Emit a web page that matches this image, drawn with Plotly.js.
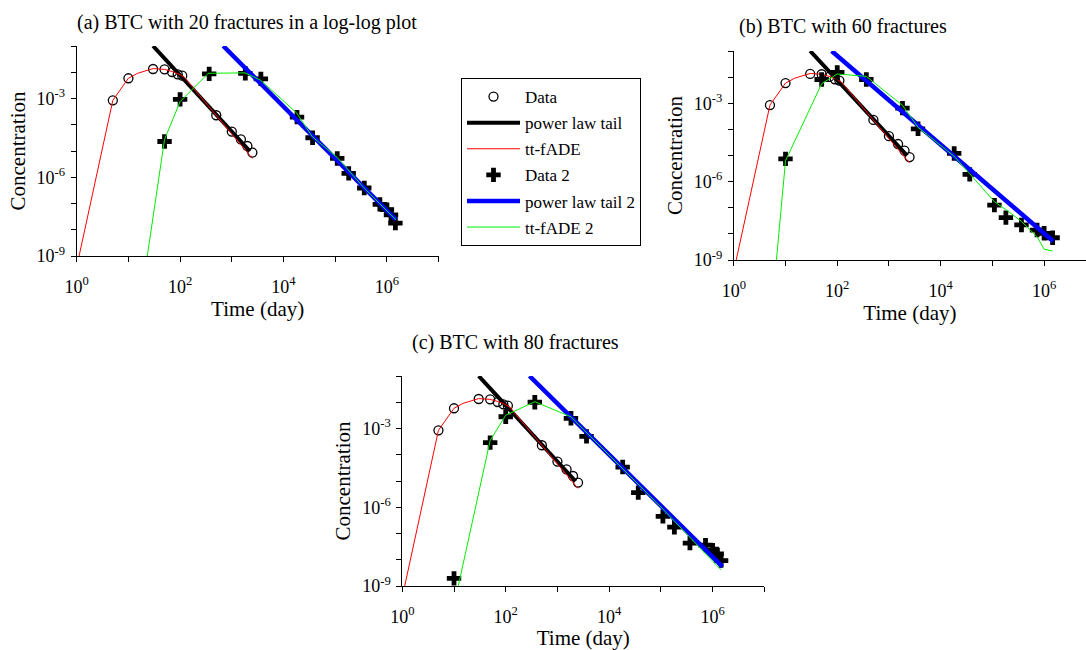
<!DOCTYPE html>
<html>
<head>
<meta charset="utf-8">
<script src="https://cdn.plot.ly/plotly-3.0.1.min.js"></script>
<style>
  html, body { margin: 0; padding: 0; background: #ffffff; }
  #chart { width: 1086px; height: 650px; }
</style>
</head>
<body>
<div id="chart"></div>
<script>
// Reference breakthrough data (open circles), shared by all three panels
const dataTime = [5, 10, 30, 50, 70, 90, 110, 500, 1000, 1500, 2000, 2500];
const dataConc = [8.5e-4, 5.9e-3, 1.33e-2, 1.29e-2, 1.02e-2, 8.3e-3, 7.4e-3, 2.3e-4, 5.5e-5, 2.75e-5, 1.55e-5, 8.7e-6];

// tt-fADE fit of the reference data
const fadeTime = [1, 5, 10, 15, 30, 50, 70, 100, 120, 2500];
const fadeConc = [3.8e-10, 8.5e-4, 5.9e-3, 9.1e-3, 1.38e-2, 1.29e-2, 1.07e-2, 8.1e-3, 6.5e-3, 5.2e-6];

// power-law tail of the reference data
const tailTime = [30, 2240];
const tailConc = [0.1, 9.8e-6];

// (a) 20 fractures
const data2TimeA = [50, 100, 365, 1825, 3650, 18250, 36500, 109500, 182500, 365000, 730000, 1000000, 1200000, 1460000];
const data2ConcA = [2.3e-5, 9.3e-4, 8.7e-3, 9.1e-3, 5.6e-3, 1.95e-4, 3.2e-5, 5.2e-6, 1.4e-6, 3.9e-7, 9.3e-8, 5.8e-8, 3.7e-8, 1.8e-8];
const tail2TimeA = [684, 1.5e6];
const tail2ConcA = [0.1, 2.4e-8];
const fade2TimeA = [20, 50, 100, 350, 1800, 3600, 18000, 36000, 110000, 190000, 340000, 720000, 1.5e6];
const fade2ConcA = [1.4e-10, 2.75e-5, 7.6e-4, 9.1e-3, 9.5e-3, 5.0e-3, 2.8e-4, 3.5e-5, 5.6e-6, 1.6e-6, 4.5e-7, 1.0e-7, 2.4e-8];

// (b) 60 fractures
const data2TimeB = [10, 50, 100, 365, 1825, 3650, 18250, 36500, 109500, 182500, 365000, 730000, 1000000, 1460000];
const data2ConcB = [7.4e-6, 8.1e-3, 1.5e-2, 8.1e-3, 6.5e-4, 1.05e-4, 1.2e-5, 1.9e-6, 1.26e-7, 4.2e-8, 2.2e-8, 1.4e-8, 1.05e-8, 7.1e-9];
const tail2TimeB = [78, 1.5e6];
const tail2ConcB = [0.1, 5.2e-9];
const fade2TimeB = [6, 10, 50, 100, 365, 1825, 3650, 18250, 36500, 109500, 182500, 365000, 730000, 1000000, 1460000];
const fade2ConcB = [1.0e-10, 6.3e-6, 5.6e-3, 1.32e-2, 1.07e-2, 8.3e-4, 1.2e-4, 9.3e-6, 2.0e-6, 1.7e-7, 8.5e-8, 3.0e-8, 7.8e-9, 2.6e-9, 2.2e-9];

// (c) 80 fractures
const data2TimeC = [10, 50, 100, 365, 1825, 3650, 18250, 36500, 109500, 182500, 365000, 730000, 1000000, 1200000, 1460000];
const data2ConcC = [1.95e-9, 2.9e-4, 2.8e-3, 1.0e-2, 2.45e-3, 5.0e-4, 3.4e-5, 3.6e-6, 4.5e-7, 1.74e-7, 4.3e-8, 3.6e-8, 2.3e-8, 1.66e-8, 9.3e-9];
const tail2TimeC = [288, 1.55e6];
const tail2ConcC = [0.1, 5.5e-9];
const fade2TimeC = [10, 50, 100, 365, 1825, 18250, 109500, 1460000];
const fade2ConcC = [1.8e-10, 3.5e-4, 3.2e-3, 1.05e-2, 2.8e-3, 3.0e-5, 8.5e-7, 4.1e-9];

// axis ticks
const xTickVals = [1, 10, 100, 1e3, 1e4, 1e5, 1e6, 1e7];
const xTickText = ['10<sup>0</sup>', '', '10<sup>2</sup>', '', '10<sup>4</sup>', '', '10<sup>6</sup>', ''];
const yTickVals = [1e-9, 1e-8, 1e-7, 1e-6, 1e-5, 1e-4, 1e-3, 1e-2, 1e-1];
const yTickText = ['10<sup>-9</sup>', '', '', '10<sup>-6</sup>', '', '', '10<sup>-3</sup>', '', ''];

const panelTitles = ['(a) BTC with 20 fractures in a log-log plot', '(b) BTC with 60 fractures', '(c) BTC with 80 fractures'];
const seriesNames = ['Data', 'power law tail', 'tt-fADE', 'Data 2', 'power law tail 2', 'tt-fADE 2'];

const FONT = 'Liberation Serif, "Times New Roman", Times, serif';
const W = 1086, H = 650;

const panels = [
  { xa: 'x',  ya: 'y',  t2: data2TimeA, c2: data2ConcA, tt2: tail2TimeA, tc2: tail2ConcA, ft2: fade2TimeA, fc2: fade2ConcA },
  { xa: 'x2', ya: 'y2', t2: data2TimeB, c2: data2ConcB, tt2: tail2TimeB, tc2: tail2ConcB, ft2: fade2TimeB, fc2: fade2ConcB },
  { xa: 'x3', ya: 'y3', t2: data2TimeC, c2: data2ConcC, tt2: tail2TimeC, tc2: tail2ConcC, ft2: fade2TimeC, fc2: fade2ConcC }
];

const traces = [];
panels.forEach((p, i) => {
  const show = i === 0;
  const common = (k) => ({ xaxis: p.xa, yaxis: p.ya, showlegend: show, legendgroup: 'g' + k, name: seriesNames[k] });
  traces.push(Object.assign({
    x: dataTime, y: dataConc, mode: 'markers',
    marker: { symbol: 'circle-open', size: 9, color: '#000', line: { width: 1.3, color: '#000' } }
  }, common(0)));
  traces.push(Object.assign({
    x: tailTime, y: tailConc, mode: 'lines',
    line: { color: '#000', width: 4 }
  }, common(1)));
  traces.push(Object.assign({
    x: fadeTime, y: fadeConc, mode: 'lines',
    line: { color: '#ff0000', width: 1 }
  }, common(2)));
  traces.push(Object.assign({
    x: p.t2, y: p.c2, mode: 'markers',
    marker: { symbol: 'cross', size: 12, color: '#000', line: { width: 0 } }
  }, common(3)));
  traces.push(Object.assign({
    x: p.tt2, y: p.tc2, mode: 'lines',
    line: { color: '#0000ff', width: 4.5 }
  }, common(4)));
  traces.push(Object.assign({
    x: p.ft2, y: p.fc2, mode: 'lines',
    line: { color: '#00ee00', width: 1 }
  }, common(5)));
});

function xAxis(left, right, maxDec, anchor) {
  return {
    type: 'log', range: [0, maxDec], domain: [left / W, right / W], anchor: anchor,
    tickvals: xTickVals, ticktext: xTickText,
    ticks: 'outside', ticklen: 5, tickwidth: 1, tickcolor: '#000',
    showline: true, linecolor: '#000', linewidth: 1,
    showgrid: false, zeroline: false, automargin: false,
    tickfont: { family: FONT, size: 18, color: '#000' },
    ticklabelstandoff: 9,
    title: { text: 'Time (day)', font: { family: FONT, size: 21, color: '#000' }, standoff: 3 }
  };
}
function yAxis(top, bottom, anchor) {
  return {
    type: 'log', range: [-9, -1], domain: [1 - bottom / H, 1 - top / H], anchor: anchor,
    tickvals: yTickVals, ticktext: yTickText,
    ticks: 'outside', ticklen: 5, tickwidth: 1, tickcolor: '#000',
    showline: true, linecolor: '#000', linewidth: 1,
    showgrid: false, zeroline: false, automargin: false,
    tickfont: { family: FONT, size: 18, color: '#000' },
    ticklabelstandoff: 2,
    title: { text: 'Concentration', font: { family: FONT, size: 21, color: '#000' }, standoff: 5 }
  };
}

function panelTitle(text, leftPx, midPx) {
  return {
    text: text, xref: 'paper', yref: 'paper', x: leftPx / W, y: 1 - midPx / H,
    xanchor: 'left', yanchor: 'middle', showarrow: false,
    font: { family: FONT, size: 20, color: '#000' }
  };
}

const layout = {
  width: W, height: H,
  margin: { l: 0, r: 0, t: 0, b: 0 },
  paper_bgcolor: '#ffffff', plot_bgcolor: '#ffffff',
  font: { family: FONT, color: '#000' },
  xaxis: xAxis(76.7, 438.6, 7, 'y'),
  yaxis: yAxis(46, 256, 'x'),
  xaxis2: xAxis(733.8, 1086, 6.81, 'y2'),
  yaxis2: yAxis(51, 260, 'x2'),
  xaxis3: xAxis(402.3, 764.3, 7, 'y3'),
  yaxis3: yAxis(376, 586, 'x3'),
  legend: {
    x: 461 / W, y: 1 - 78 / H, xanchor: 'left', yanchor: 'top',
    bgcolor: '#ffffff', bordercolor: '#000', borderwidth: 1,
    font: { family: FONT, size: 17, color: '#000' },
    itemwidth: 53,
    tracegroupgap: 1
  },
  annotations: [
    panelTitle(panelTitles[0], 75, 22),
    panelTitle(panelTitles[1], 737, 27),
    panelTitle(panelTitles[2], 410, 342)
  ],
  showlegend: true
};

Plotly.newPlot('chart', traces, layout, { displayModeBar: false, staticPlot: true });
</script>
</body>
</html>
